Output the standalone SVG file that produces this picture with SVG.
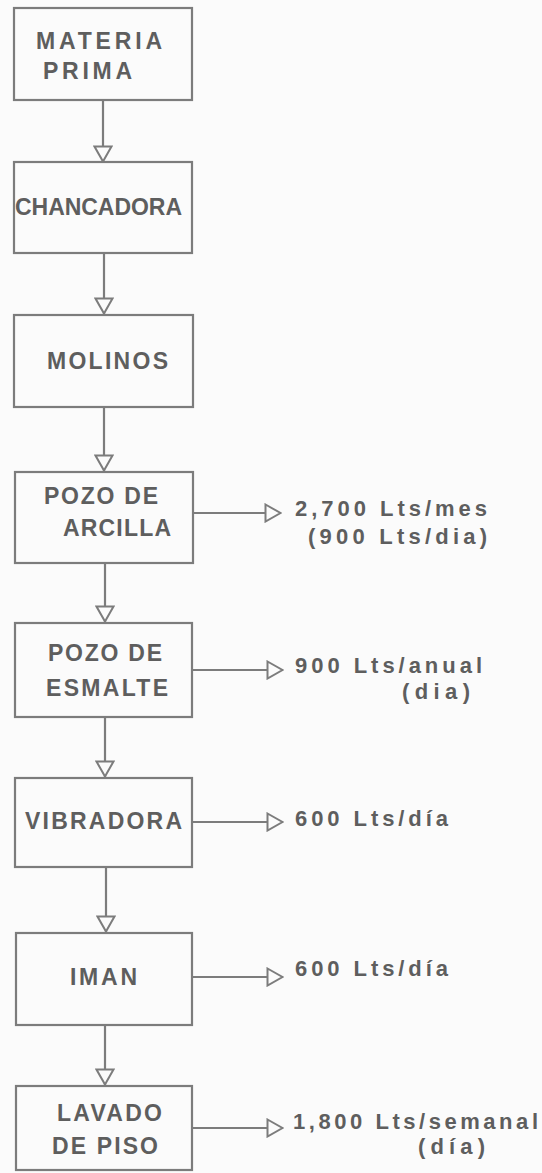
<svg xmlns="http://www.w3.org/2000/svg" width="542" height="1173" viewBox="0 0 542 1173">
<defs>
<style>
.box{fill:none;stroke:#7c7c7c;stroke-width:2.2}
.node text{font-family:"Liberation Sans",Arial,sans-serif;font-size:23px;font-weight:bold;fill:#5e5e5e}
.lbl{font-family:"Liberation Sans",Arial,sans-serif;font-size:22px;font-weight:bold;fill:#5e5e5e}
.conn line{stroke:#7c7c7c;stroke-width:2.2;marker-end:url(#tri)}
</style>
<marker id="tri" viewBox="0 0 18 20" refX="17" refY="10" markerWidth="18" markerHeight="20" markerUnits="userSpaceOnUse" orient="auto">
<path d="M1.5,1.5 L16.5,10 L1.5,18.5 Z" fill="#fbfbfb" stroke="#7c7c7c" stroke-width="2"/>
</marker>
</defs>
<rect width="542" height="1173" fill="#fbfbfb"/>
<g id="connectors" class="conn">
<line x1="103" y1="100" x2="103" y2="162"/>
<line x1="104" y1="253" x2="104" y2="314"/>
<line x1="104" y1="407" x2="104" y2="471"/>
<line x1="105" y1="563" x2="105" y2="622"/>
<line x1="105" y1="717" x2="105" y2="777"/>
<line x1="106" y1="867" x2="106" y2="932"/>
<line x1="105" y1="1025" x2="105" y2="1085"/>
<line x1="193" y1="513" x2="281" y2="513"/>
<line x1="192" y1="670" x2="283" y2="670"/>
<line x1="192" y1="822" x2="283" y2="822"/>
<line x1="192" y1="977" x2="283" y2="977"/>
<line x1="192" y1="1128" x2="283" y2="1128"/>
</g>
<g id="n1" class="node"><rect class="box" x="14" y="8" width="178" height="92"/>
<text x="36" y="49" textLength="126" lengthAdjust="spacing">MATERIA</text>
<text x="43" y="79" textLength="89" lengthAdjust="spacing">PRIMA</text></g>
<g id="n2" class="node"><rect class="box" x="14" y="162" width="178" height="91"/>
<text x="15" y="215" textLength="167" lengthAdjust="spacing">CHANCADORA</text></g>
<g id="n3" class="node"><rect class="box" x="14" y="315" width="179" height="92"/>
<text x="47" y="369" textLength="121" lengthAdjust="spacing">MOLINOS</text></g>
<g id="n4" class="node"><rect class="box" x="15" y="472" width="178" height="91"/>
<text x="44" y="504" textLength="114" lengthAdjust="spacing">POZO DE</text>
<text x="63" y="536" textLength="108" lengthAdjust="spacing">ARCILLA</text></g>
<g id="n5" class="node"><rect class="box" x="15" y="623" width="177" height="94"/>
<text x="48" y="661" textLength="114" lengthAdjust="spacing">POZO DE</text>
<text x="46" y="696" textLength="122" lengthAdjust="spacing">ESMALTE</text></g>
<g id="n6" class="node"><rect class="box" x="15" y="778" width="177" height="89"/>
<text x="25" y="829" textLength="157" lengthAdjust="spacing">VIBRADORA</text></g>
<g id="n7" class="node"><rect class="box" x="16" y="933" width="176" height="92"/>
<text x="70" y="985" textLength="67" lengthAdjust="spacing">IMAN</text></g>
<g id="n8" class="node"><rect class="box" x="16" y="1086" width="176" height="84"/>
<text x="57" y="1121" textLength="105" lengthAdjust="spacing">LAVADO</text>
<text x="52" y="1154" textLength="106" lengthAdjust="spacing">DE PISO</text></g>
<g id="labels">
<text class="lbl" x="295" y="516" textLength="192" lengthAdjust="spacing">2,700 Lts/mes</text>
<text class="lbl" x="308" y="544" textLength="179" lengthAdjust="spacing">(900 Lts/dia)</text>
<text class="lbl" x="295" y="673" textLength="187" lengthAdjust="spacing">900 Lts/anual</text>
<text class="lbl" x="402" y="699" textLength="68" lengthAdjust="spacing">(dia)</text>
<text class="lbl" x="295" y="826" textLength="153" lengthAdjust="spacing">600 Lts/día</text>
<text class="lbl" x="295" y="976" textLength="153" lengthAdjust="spacing">600 Lts/día</text>
<text class="lbl" x="293" y="1129" textLength="245" lengthAdjust="spacing">1,800 Lts/semanal</text>
<text class="lbl" x="418" y="1154" textLength="67" lengthAdjust="spacing">(día)</text>
</g>
</svg>
